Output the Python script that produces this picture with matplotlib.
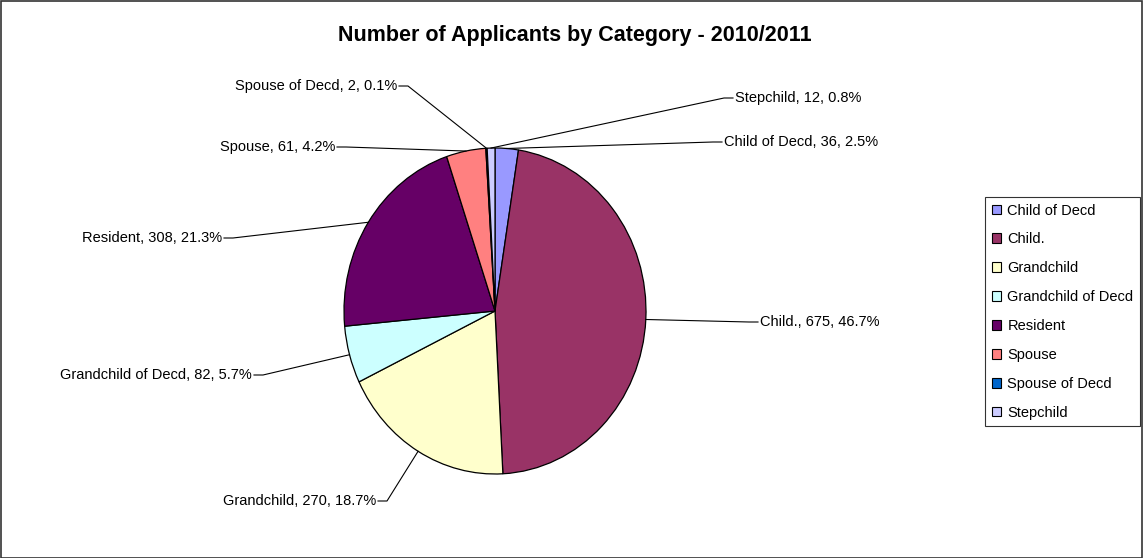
import numpy as np
import matplotlib
matplotlib.use("Agg")
import matplotlib.pyplot as plt
from matplotlib.patches import Patch, Rectangle

categories = ["Child of Decd", "Child.", "Grandchild", "Grandchild of Decd",
              "Resident", "Spouse", "Spouse of Decd", "Stepchild"]
counts = [36, 675, 270, 82, 308, 61, 2, 12]
colors = ["#9999FF", "#993366", "#FFFFCC", "#CCFFFF",
          "#660066", "#FF8080", "#0066CC", "#CCCCFF"]

# label anchor in pixels (x, y, alignment) -- layout only
label_pos = {
    "Child of Decd": (724, 142, "left"),
    "Child.": (760, 322, "left"),
    "Grandchild": (376, 501, "right"),
    "Grandchild of Decd": (252, 375, "right"),
    "Resident": (222, 238, "right"),
    "Spouse": (335, 147, "right"),
    "Spouse of Decd": (397, 86, "right"),
    "Stepchild": (735, 98, "left"),
}

W, H = 1143, 558
plt.rcParams["font.family"] = ["Liberation Sans", "DejaVu Sans"]
fig = plt.figure(figsize=(W / 100, H / 100), dpi=100)

# pie axes (slightly taller than wide like the original)
cx, cy, rx, ry = 495, 311, 151, 163
ax = fig.add_axes([(cx - rx) / W, (H - cy - ry) / H, 2 * rx / W, 2 * ry / H])
wedges, _ = ax.pie(counts, colors=colors, startangle=90, counterclock=False,
                   wedgeprops=dict(edgecolor="black", linewidth=0.9))
ax.set_aspect("auto")
ax.set_xlim(-1, 1)
ax.set_ylim(-1, 1)

# overlay in pixel coords for labels and leader lines
ov = fig.add_axes([0, 0, 1, 1], zorder=5)
ov.set_xlim(0, W)
ov.set_ylim(H, 0)
ov.axis("off")
ov.patch.set_alpha(0)

total = sum(counts)
for w, name, n in zip(wedges, categories, counts):
    mid = np.deg2rad((w.theta1 + w.theta2) / 2)
    disp = ax.transData.transform((np.cos(mid), np.sin(mid)))
    ex, ey = ov.transData.inverted().transform(disp)
    tx, ty, ha = label_pos[name]
    pct = 100 * n / total
    ov.text(tx, ty, f"{name}, {n}, {pct:.1f}%", ha=ha, va="center", fontsize=10.5)
    sgn = -1 if ha == "left" else 1
    x0 = tx + sgn * 2
    x1 = x0 + sgn * 9
    ov.plot([x0, x1, ex], [ty, ty, ey], color="black", lw=0.8)

fig.text(575 / W, 1 - 36 / H, "Number of Applicants by Category - 2010/2011",
         ha="center", va="center", fontsize=15.5, fontweight="bold")

handles = [Patch(facecolor=c, edgecolor="black", linewidth=0.8) for c in colors]
leg = fig.legend(handles, categories, loc="upper right",
                 bbox_to_anchor=(1140 / W, 1 - 197 / H), fontsize=10.5,
                 frameon=True, fancybox=False, edgecolor="black",
                 handlelength=0.65, handleheight=0.65, handletextpad=0.4,
                 labelspacing=1.02, borderpad=0.45, borderaxespad=0)
leg.get_frame().set_linewidth(0.8)

fig.patches.append(Rectangle((0.5 / W, 0.5 / H), 1 - 1.5 / W, 1 - 1.5 / H,
                             transform=fig.transFigure, fill=False,
                             edgecolor="#333333", linewidth=1.2))

fig.savefig("out.png", dpi=100)
